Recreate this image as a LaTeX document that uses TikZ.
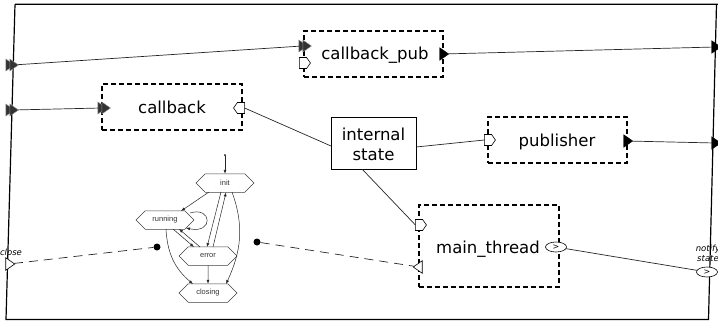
\documentclass[tikz,border=0pt]{standalone}
\usepackage{fontspec}
\setmainfont{DejaVu Sans}
\newfontfamily\statefont{Liberation Sans}
\usetikzlibrary{shapes.geometric,shapes.symbols,arrows.meta,calc}

\tikzset{
  comp/.style={draw, dash pattern=on 5pt off 3pt, line width=1.1pt, outer sep=0pt, inner sep=0pt},
  solidbox/.style={draw, line width=0.9pt, outer sep=0pt, inner sep=0pt},
  boxtext/.style={anchor=base, inner sep=0pt, font=\fontsize{16.5}{20}\selectfont, align=center},
  wire/.style={line width=0.7pt, draw=black!85},
  dashwire/.style={line width=0.7pt, draw=black!85, dash pattern=on 9pt off 6pt},
  housein/.style={shape=signal, signal to=east, signal pointer angle=110, draw, fill=white,
    line width=0.6pt, minimum width=11pt, minimum height=11pt, inner sep=0pt, outer sep=0pt},
  houseout/.style={housein, signal to=west},
  ftri/.style={isosceles triangle, isosceles triangle apex angle=70, fill=black, draw=black,
    line width=0.4pt, inner sep=0pt, outer sep=0pt, minimum height=9pt},
  otri/.style={ftri, fill=white, line width=0.6pt},
  dtri/.style={ftri, fill=black!80, draw=black!45, minimum height=8.5pt},
  evport/.style={ellipse, draw, fill=white, line width=0.6pt, minimum width=21pt, minimum height=10pt,
    inner sep=0pt, outer sep=0pt, font=\fontsize{8}{8}\selectfont},
  blob/.style={circle, fill=black, inner sep=0pt, minimum size=7pt},
  plabel/.style={font=\itshape\fontsize{8.5}{10}\selectfont, align=center, inner sep=0pt},
  st/.style={shape=signal, signal to=west and east, signal pointer angle=90, draw=black!75,
    line width=0.5pt, minimum width=58pt, minimum height=18.5pt, inner sep=0pt, outer sep=0pt,
    font=\statefont\fontsize{7.5}{8}\selectfont, text=black!80},
  tr/.style={line width=0.5pt, draw=black!85, -{Latex[length=4pt,width=3pt]}},
}

\begin{document}
\begin{tikzpicture}[x=1pt,y=-1pt]
\useasboundingbox (0,0) rectangle (718,322);

% outer component frame
\draw[line width=1.2pt] (15,4.3) -- (719,4.3) (716.5,4.3) -- (708.5,319.5) -- (6,319.5) -- (15,4.3);

% sub components
\node[comp, minimum width=139pt, minimum height=46pt] (cbpub) at (373.5,54) {};
\node[comp, minimum width=140pt, minimum height=46pt] (cb) at (172,107) {};
\node[comp, minimum width=139pt, minimum height=46pt] (pub) at (557.5,140) {};
\node[comp, minimum width=140pt, minimum height=82pt] (mt) at (489,246) {};
\node[solidbox, minimum width=85pt, minimum height=52pt] (ist) at (373.5,143) {};

\node[boxtext] (cbpubtxt) at (375,59) {callback\_pub};
\node[boxtext] (cbtxt) at (172,113) {callback};
\node[boxtext] (pubtxt) at (557,146) {publisher};
\node[boxtext] (mttxt) at (488,253) {main\_thread};
\node[boxtext] (isttxt) at (373.5,160) {internal\\state};

% ports on the outer frame
\node[dtri] (inA1) at (9,65) {};
\node[dtri] (inA2) at (13,65) {};
\node[dtri] (inB1) at (9,110) {};
\node[dtri] (inB2) at (13,110) {};
\node[ftri] (outA) at (715,47) {};
\node[ftri] (outB) at (715,143) {};
\node[otri] (closein) at (9,264) {};
\node[plabel] (closetxt) at (11,252) {close};
\node[evport] (notify) at (707,272) {>};
\node[plabel] (notifytxt) at (708,253) {notify\\state};

% ports on the sub components
\node[dtri] (cbpubin1) at (302,46) {};
\node[dtri] (cbpubin2) at (306,46) {};
\node[housein] (cbpubport) at (303,63) {};
\node[ftri] (cbpubout) at (443,54) {};
\node[dtri] (cbin1) at (101,108) {};
\node[dtri] (cbin2) at (105,108) {};
\node[houseout] (cbport) at (241,108) {};
\node[housein] (pubin) at (488,140) {};
\node[ftri] (pubout) at (627,141) {};
\node[housein] (mtin) at (419,225) {};
\node[otri, shape border rotate=180] (mtclose) at (419,267) {};
\node[evport] (mtout) at (556,247) {>};

% links
\draw[wire] (inA2) -- (cbpubin1);
\draw[wire] (inB2) -- (cbin1);
\draw[wire] (cbpubout) -- (outA);
\draw[wire] (pubout) -- (outB);
\draw[wire] (cbport.east) -- ([yshift=-3pt]ist.west);
\draw[wire] ([yshift=-4pt]ist.east) -- (pubin.west);
\draw[wire] ([xshift=-11.5pt]ist.south) -- (mtin.west);
\draw[wire] (mtout) -- (notify);

% state machine of the main thread
\node[circle, fill=black, inner sep=0pt, minimum size=2pt] (s0) at (225,155) {};
\node[st] (init) at (225,183) {init};
\node[st] (running) at (165,220) {running};
\node[st] (error) at (208,256) {error};
\node[st] (closing) at (208,293) {closing};

\draw[tr] (s0) -- (init);
\draw[tr] ($(init)+(-16,9)$) -- ($(running)+(16,-9)$);
\draw[tr] ($(running)+(25,-7)$) .. controls (212,206) and (214,234) .. ($(running)+(21,8)$);
\draw[tr] ($(init)+(-4,9)$) -- ($(error)+(-1,-9)$);
\draw[tr] ($(error)+(5,-9)$) -- ($(init)+(1,9.5)$);
\draw[tr] ($(running)+(8,9)$) -- ($(error)+(-14,-9)$);
\draw[tr] ($(error)+(-8,-9)$) -- ($(running)+(14,9)$);
\draw[tr] ($(running)+(1,9)$) to[out=-87,in=140] ($(closing)+(-15,-9)$);
\draw[tr] (error) -- (closing);
\draw[tr] ($(init)+(7,9)$) to[out=-70,in=65] ($(closing)+(18,-9)$);

% close signal wiring
\node[blob] (d1) at (157,247) {};
\node[blob] (d2) at (257,242) {};
\draw[dashwire] (closein) -- (d1);
\draw[dashwire] (d2) -- (mtclose);
\end{tikzpicture}
\end{document}
